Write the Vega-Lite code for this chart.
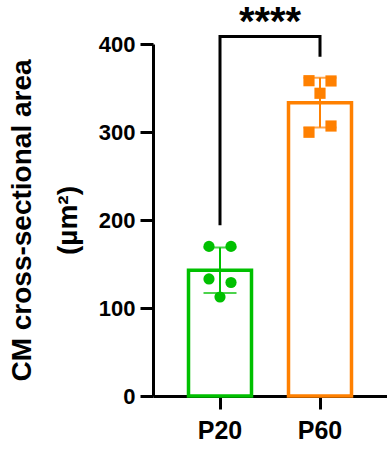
{
  "$schema": "https://vega.github.io/schema/vega-lite/v6.json",
  "width": 234,
  "height": 352,
  "autosize": {"type": "none"},
  "padding": {"left": 153, "top": 44, "right": 0, "bottom": 55},
  "background": "white",
  "title": {"text": "****", "fontSize": 40, "font": "Liberation Sans", "fontWeight": "bold", "color": "black", "anchor": "middle", "frame": "group", "offset": -12},
  "config": {
    "view": {"stroke": null},
    "axis": {"domainColor": "black", "domainWidth": 3, "tickColor": "black", "tickWidth": 3, "tickSize": 13, "labelColor": "black", "labelFont": "Liberation Sans", "labelFontWeight": "bold", "titleFont": "Liberation Sans", "titleFontWeight": "bold", "titleColor": "black", "grid": false},
    "legend": {"disable": true}
  },
  "datasets": {
    "cells": [
      {"group": "P20", "col": -1, "area": 170},
      {"group": "P20", "col": 1, "area": 170},
      {"group": "P20", "col": -1, "area": 133},
      {"group": "P20", "col": 1, "area": 129},
      {"group": "P20", "col": 0, "area": 112.5},
      {"group": "P60", "col": -1, "area": 358.3},
      {"group": "P60", "col": 1, "area": 358},
      {"group": "P60", "col": 0, "area": 344},
      {"group": "P60", "col": -1, "area": 299.7},
      {"group": "P60", "col": 1, "area": 306.8}
    ],
    "bracket": [
      {"group": "P20", "step": 1, "level": 194},
      {"group": "P20", "step": 2, "level": 408.5},
      {"group": "P60", "step": 3, "level": 408.5},
      {"group": "P60", "step": 4, "level": 385.6}
    ]
  },
  "resolve": {"scale": {"xOffset": "independent"}},
  "layer": [
    {
      "data": {"name": "cells"},
      "mark": {"type": "bar", "fill": "white", "strokeWidth": 3.5},
      "encoding": {
        "x": {"field": "group", "type": "nominal", "title": null, "scale": {"paddingInner": 0.37, "paddingOuter": 0.355}, "axis": {"labelAngle": 0, "labelFontSize": 25, "labelPadding": 9}},
        "y": {"aggregate": "mean", "field": "area", "type": "quantitative", "title": ["CM cross-sectional area", "(µm²)"], "scale": {"domain": [0, 400], "nice": false}, "axis": {"values": [0, 100, 200, 300, 400], "labelFontSize": 22, "labelPadding": 5, "titleFontSize": 28, "titleLineHeight": 46, "titlePadding": 16}},
        "stroke": {"field": "group", "type": "nominal", "scale": {"domain": ["P20", "P60"], "range": ["#00C000", "#FF8000"]}}
      }
    },
    {
      "data": {"name": "cells"},
      "mark": {"type": "errorbar", "extent": "stdev", "ticks": true, "size": 33, "thickness": 2},
      "encoding": {
        "x": {"field": "group", "type": "nominal", "title": null},
        "y": {"field": "area", "type": "quantitative", "title": ["CM cross-sectional area", "(µm²)"]},
        "color": {"field": "group", "type": "nominal", "scale": {"domain": ["P20", "P60"], "range": ["#00C000", "#FF8000"]}}
      }
    },
    {
      "data": {"name": "cells"},
      "mark": {"type": "point", "filled": true, "opacity": 1, "size": 125, "strokeWidth": 0},
      "encoding": {
        "x": {"field": "group", "type": "nominal", "title": null},
        "xOffset": {"field": "col", "type": "quantitative", "scale": {"domain": [-2.86, 2.86]}},
        "y": {"field": "area", "type": "quantitative", "title": ["CM cross-sectional area", "(µm²)"]},
        "shape": {"field": "group", "type": "nominal", "scale": {"domain": ["P20", "P60"], "range": ["circle", "square"]}},
        "color": {"field": "group", "type": "nominal", "scale": {"domain": ["P20", "P60"], "range": ["#00C000", "#FF8000"]}}
      }
    },
    {
      "data": {"name": "bracket"},
      "mark": {"type": "line", "color": "black", "strokeWidth": 3, "strokeJoin": "miter", "strokeCap": "butt"},
      "encoding": {
        "x": {"field": "group", "type": "nominal", "title": null},
        "y": {"field": "level", "type": "quantitative", "title": ["CM cross-sectional area", "(µm²)"]},
        "order": {"field": "step", "type": "quantitative"}
      }
    }
  ]
}
